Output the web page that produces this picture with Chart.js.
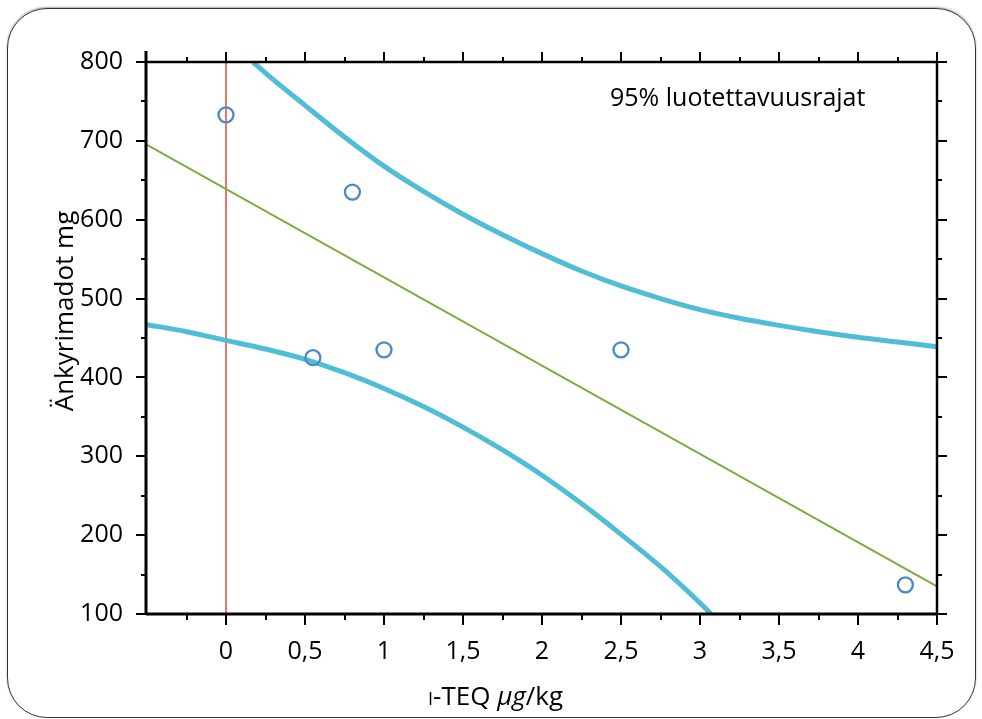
<!DOCTYPE html>
<html>
<head>
<meta charset="utf-8">
<script src="https://cdn.jsdelivr.net/npm/chart.js@4/dist/chart.umd.min.js"></script>
<style>
  html, body { margin:0; padding:0; background:#fff; }
  #wrap { position:relative; width:982px; height:719px; overflow:hidden; }
  #card { position:absolute; left:7px; top:8px; width:967px; height:708px; border:1.5px solid #333; border-radius:40px; box-shadow:0 -1px 2px rgba(0,0,0,0.35); }
  #c { position:absolute; left:0; top:0; }
</style>
</head>
<body>
<div id="wrap">
  <div id="card"></div>
  <canvas id="c" width="982" height="719"></canvas>
</div>
<script>
// ---- data ----
const obsX = [0, 0.55, 0.8, 1.0, 2.5, 4.3];
const obsY = [733, 425, 635, 435, 435, 137];
const fitX = [-0.5, 4.5];
const fitY = [695, 135];
const upperX = [0.17, 0.25, 0.5, 0.75, 1, 1.25, 1.5, 1.75, 2, 2.25, 2.5, 2.75, 3, 3.25, 3.5, 3.75, 4, 4.25, 4.5];
const upperY = [800, 786, 745, 705, 668, 636, 607, 581, 557, 535, 516, 500, 486, 475, 466, 458, 451, 445, 439];
const lowerX = [-0.5, -0.25, 0, 0.25, 0.5, 0.75, 1, 1.25, 1.5, 1.75, 2, 2.25, 2.5, 2.75, 3, 3.07];
const lowerY = [467, 458, 447, 436, 423, 406, 386, 363, 337, 308, 276, 240, 201, 160, 114, 100];
const refX = [0, 0];
const refY = [100, 800];
const xTickValues = [0, 0.5, 1, 1.5, 2, 2.5, 3, 3.5, 4, 4.5];
const xTickLabels = ['0', '0,5', '1', '1,5', '2', '2,5', '3', '3,5', '4', '4,5'];
const yTickValues = [100, 200, 300, 400, 500, 600, 700, 800];
const xMinorValues = [-0.25, 0.25, 0.75, 1.25, 1.75, 2.25, 2.75, 3.25, 3.75, 4.25];
const yMinorValues = [150, 250, 350, 450, 550, 650, 750];
const xTitle = 'I-TEQ μg/kg';
const yTitle = 'Änkyrimadot mg';
const noteText = '95% luotettavuusrajat';

const FONT = '"Open Sans", Lato, sans-serif';
const pts = (xs, ys) => xs.map((x, i) => ({x, y: ys[i]}));

const framePlugin = {
  id: 'frame',
  afterDraw(chart) {
    const ctx = chart.ctx;
    const xs = chart.scales.x, ys = chart.scales.y;
    const L = xs.left, R = xs.right, T = ys.top, B = ys.bottom;
    ctx.save();
    ctx.strokeStyle = '#000';
    ctx.lineCap = 'butt';
    ctx.lineWidth = 2.5;
    ctx.beginPath(); ctx.moveTo(L, T); ctx.lineTo(R, T); ctx.stroke();
    ctx.beginPath(); ctx.moveTo(R, T); ctx.lineTo(R, B); ctx.stroke();
    ctx.lineWidth = 3;
    ctx.beginPath(); ctx.moveTo(L - 1, T - 11); ctx.lineTo(L - 1, B + 1); ctx.stroke();
    ctx.beginPath(); ctx.moveTo(L - 1, B); ctx.lineTo(R + 1, B); ctx.stroke();
    ctx.lineWidth = 2;
    xTickValues.forEach(v => { const p = Math.round(xs.getPixelForValue(v));
      ctx.beginPath(); ctx.moveTo(p, B); ctx.lineTo(p, B + 11); ctx.stroke();
      ctx.beginPath(); ctx.moveTo(p, T); ctx.lineTo(p, T - 10); ctx.stroke(); });
    xMinorValues.forEach(v => { const p = Math.round(xs.getPixelForValue(v));
      ctx.beginPath(); ctx.moveTo(p, B); ctx.lineTo(p, B + 6); ctx.stroke();
      ctx.beginPath(); ctx.moveTo(p, T); ctx.lineTo(p, T - 5); ctx.stroke(); });
    yTickValues.forEach(v => { const p = Math.round(ys.getPixelForValue(v));
      ctx.beginPath(); ctx.moveTo(L, p); ctx.lineTo(L - 11, p); ctx.stroke();
      ctx.beginPath(); ctx.moveTo(R, p); ctx.lineTo(R + 10, p); ctx.stroke(); });
    yMinorValues.forEach(v => { const p = Math.round(ys.getPixelForValue(v));
      ctx.beginPath(); ctx.moveTo(L, p); ctx.lineTo(L - 6, p); ctx.stroke();
      ctx.beginPath(); ctx.moveTo(R, p); ctx.lineTo(R + 5, p); ctx.stroke(); });
    ctx.fillStyle = '#000';
    ctx.textBaseline = 'alphabetic';
    ctx.textAlign = 'left';
    ctx.font = '25px ' + FONT;
    ctx.fillText(noteText, 610, 106);
    ctx.save();
    ctx.translate(73, 311);
    ctx.rotate(-Math.PI / 2);
    ctx.textAlign = 'center';
    ctx.font = '26px ' + FONT;
    ctx.fillText(yTitle, 0, 0);
    ctx.restore();
    const parts = [
      {t: xTitle.slice(0, 1), f: '18px ' + FONT},
      {t: xTitle.slice(1, 6), f: '26px ' + FONT},
      {t: xTitle.slice(6, 8), f: 'italic 26px ' + FONT},
      {t: xTitle.slice(8), f: '26px ' + FONT}
    ];
    let x = 428;
    parts.forEach(p => { ctx.font = p.f; ctx.fillText(p.t, x, 705); x += ctx.measureText(p.t).width; });
    ctx.restore();
  }
};

new Chart(document.getElementById('c'), {
  type: 'scatter',
  data: {
    datasets: [
      { data: pts(obsX, obsY), pointRadius: 7.5, pointHoverRadius: 7.5, pointBorderWidth: 2.3,
        pointBorderColor: '#4a88c9', pointBackgroundColor: 'rgba(255,255,255,0)', order: 0 },
      { data: pts(upperX, upperY), showLine: true, pointRadius: 0, borderColor: '#50bdd6', borderWidth: 5,
        cubicInterpolationMode: 'monotone', order: 1 },
      { data: pts(lowerX, lowerY), showLine: true, pointRadius: 0, borderColor: '#50bdd6', borderWidth: 5,
        cubicInterpolationMode: 'monotone', order: 1 },
      { data: pts(fitX, fitY), showLine: true, pointRadius: 0, borderColor: '#79ad3e', borderWidth: 2, order: 2 },
      { data: pts(refX, refY), showLine: true, pointRadius: 0, borderColor: '#ee7466', borderWidth: 2, order: 3 }
    ]
  },
  options: {
    responsive: false,
    animation: false,
    events: [],
    layout: { padding: { top: 62, right: 45, left: 0, bottom: 0 } },
    plugins: { legend: { display: false }, tooltip: { enabled: false } },
    scales: {
      x: {
        type: 'linear', min: -0.5, max: 4.5,
        afterBuildTicks: s => { s.ticks = xTickValues.map(v => ({value: v})); },
        afterFit: s => { s.height = 105; },
        grid: { display: false, drawTicks: false },
        border: { display: false },
        ticks: { color: '#000', font: { size: 25, family: FONT }, padding: 23, maxRotation: 0, autoSkip: false,
          callback: (v) => { const i = xTickValues.indexOf(v); return i >= 0 ? xTickLabels[i] : ''; } }
      },
      y: {
        type: 'linear', min: 100, max: 800,
        afterBuildTicks: s => { s.ticks = yTickValues.map(v => ({value: v})); },
        afterFit: s => { s.width = 147; },
        grid: { display: false, drawTicks: false },
        border: { display: false },
        ticks: { color: '#000', font: { size: 25, family: FONT }, padding: 24, autoSkip: false }
      }
    }
  },
  plugins: [framePlugin]
});
</script>
</body>
</html>
